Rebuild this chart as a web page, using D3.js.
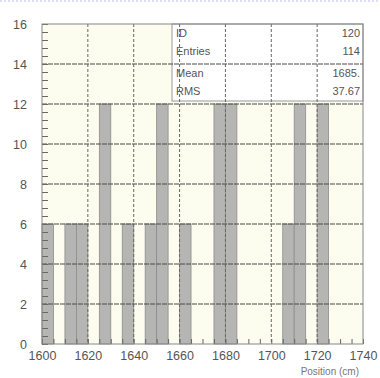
<!DOCTYPE html>
<html>
<head>
<meta charset="utf-8">
<script src="https://cdn.jsdelivr.net/npm/d3@7"></script>
<style>
  body { margin: 0; background: #fff; }
  svg { display: block; font-family: "Liberation Sans", Arial, sans-serif; }
</style>
</head>
<body>
<div id="chart"></div>
<script>
// Histogram data (only filled bins), bin width 5
const binStart = [1600, 1610, 1615, 1625, 1635, 1645, 1650, 1660, 1675, 1680, 1705, 1710, 1720];
const counts = [6, 6, 6, 12, 6, 6, 12, 6, 12, 12, 6, 12, 12];
const binWidth = 5;
const xTicks = [1600, 1620, 1640, 1660, 1680, 1700, 1720, 1740];
const yTicks = [0, 2, 4, 6, 8, 10, 12, 14, 16];
const statLabels = ["ID", "Entries", "Mean", "RMS"];
const statValues = ["120", "114", "1685.", "37.67"];

const [w, h] = [380, 378];
const [padL, padR, padT, padB] = [42, 363, 24, 344];

const svg = d3.select("#chart")
  .append("svg")
  .attr("width", w)
  .attr("height", h);

// dotted line on top edge
svg.append("line")
  .attr("x1", 0).attr("x2", w)
  .attr("y1", 1).attr("y2", 1)
  .attr("stroke", "#b9c0ee")
  .attr("stroke-dasharray", "2,2");

const xScale = d3.scaleLinear().domain([1600, 1740]).range([padL, padR]);
const yScale = d3.scaleLinear().domain([0, 16]).range([padB, padT]);

// plot background
svg.append("rect")
  .attr("x", padL).attr("y", padT)
  .attr("width", padR - padL).attr("height", padB - padT)
  .attr("fill", "#fcfcef");

// bars
svg.selectAll("rect.bin")
  .data(binStart)
  .enter()
  .append("rect")
  .attr("class", "bin")
  .attr("x", d => xScale(d))
  .attr("width", xScale(1600 + binWidth) - xScale(1600))
  .attr("y", (d, i) => yScale(counts[i]))
  .attr("height", (d, i) => yScale(0) - yScale(counts[i]))
  .attr("fill", "#b5b5b3")
  .attr("stroke", "#8c8c8a")
  .attr("stroke-width", 0.8);

// stats box
const box = svg.append("g");
box.append("rect")
  .attr("x", 172).attr("y", padT)
  .attr("width", padR - 172).attr("height", 77)
  .attr("fill", "#fff")
  .attr("stroke", "#999");
const rowY = [37, 55, 77, 95];
box.selectAll("text.lab")
  .data(statLabels)
  .enter()
  .append("text")
  .attr("class", "lab")
  .attr("x", 176)
  .attr("y", (d, i) => rowY[i])
  .attr("font-size", 11)
  .attr("fill", "#555")
  .text(d => d);
box.selectAll("text.val")
  .data(statValues)
  .enter()
  .append("text")
  .attr("class", "val")
  .attr("x", 360)
  .attr("y", (d, i) => rowY[i])
  .attr("text-anchor", "end")
  .attr("font-size", 11)
  .attr("fill", "#555")
  .text(d => d);

// grid
svg.append("g")
  .selectAll("line")
  .data(yTicks.slice(1, -1))
  .enter()
  .append("line")
  .attr("x1", padL).attr("x2", padR)
  .attr("y1", d => yScale(d)).attr("y2", d => yScale(d))
  .attr("stroke", "#4a4a4a")
  .attr("stroke-dasharray", "5,1");
svg.append("g")
  .selectAll("line")
  .data(xTicks.slice(1, -1))
  .enter()
  .append("line")
  .attr("x1", d => xScale(d)).attr("x2", d => xScale(d))
  .attr("y1", padT).attr("y2", padB)
  .attr("stroke", "#666")
  .attr("stroke-dasharray", "3,2");

// axes
const xAxis = d3.axisBottom(xScale)
  .tickValues(d3.range(1600, 1741, 5))
  .tickSize(-5)
  .tickFormat(d => xTicks.includes(d) ? d : "");
const gx = svg.append("g")
  .attr("transform", `translate(0, ${padB})`)
  .call(xAxis);
gx.select(".domain").remove();
gx.selectAll("line").attr("stroke", "#666");
gx.selectAll("text")
  .attr("y", 7)
  .attr("font-size", 12.5)
  .attr("fill", "#555")
  .attr("font-family", "Liberation Sans, Arial, sans-serif");

const yAxis = d3.axisLeft(yScale)
  .tickValues(d3.range(0, 16.01, 0.4))
  .tickSize(-6)
  .tickFormat(d => yTicks.includes(Math.round(d * 10) / 10) ? d3.format("d")(d) : "");
const gy = svg.append("g")
  .attr("transform", `translate(${padL}, 0)`)
  .call(yAxis);
gy.select(".domain").remove();
gy.selectAll("line").attr("stroke", "#666");
gy.selectAll("text")
  .attr("x", -15)
  .attr("font-size", 12.5)
  .attr("fill", "#555")
  .attr("font-family", "Liberation Sans, Arial, sans-serif");

// frame
svg.append("rect")
  .attr("x", padL).attr("y", padT)
  .attr("width", padR - padL).attr("height", padB - padT)
  .attr("fill", "none")
  .attr("stroke", "#888");

// x title (cut off at bottom in the reference)
svg.append("text")
  .attr("x", padR - 4)
  .attr("y", 375)
  .attr("text-anchor", "end")
  .attr("font-size", 10)
  .attr("fill", "#777")
  .text("Position (cm)");
</script>
</body>
</html>
